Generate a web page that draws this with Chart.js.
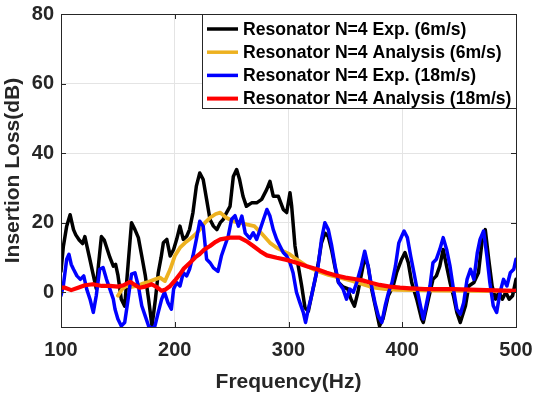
<!DOCTYPE html>
<html><head><meta charset="utf-8">
<script src="https://cdn.jsdelivr.net/npm/chart.js@4/dist/chart.umd.min.js"></script>
<style>html,body{margin:0;padding:0;background:#fff;overflow:hidden}#wrap{width:535px;height:395px}</style>
</head><body><div id="wrap"><canvas id="c" width="535" height="395"></canvas></div>
<script>
const seriesNames = [
  'Resonator N=4 Exp. (6m/s)',
  'Resonator N=4 Analysis (6m/s)',
  'Resonator N=4 Exp. (18m/s)',
  'Resonator N=4 Analysis (18m/s)'
];
const seriesColors = ['#000000', '#EDB120', '#0000FF', '#FF0000'];
const xTicks = [100, 200, 300, 400, 500];
const yTicks = [0, 20, 40, 60, 80];

const freqExp6 = [100,102,105,108,111,113,116,119,121,123,125,128,131,133,135.5,138,140,143,146,148,150,153,156,159,162,165,168,171,174,177,180,183,185.5,188,190,193,196,199,201.7,204.6,207.5,210.5,213,216,219,222,225,228,231,234,237,240,242.6,245.6,248.6,251.5,254.4,257,260,263,267.6,272,276.4,280.8,283.7,286.6,291,295.4,298.4,301.3,302.8,305.7,308.6,311.6,314.5,317.4,320.3,323.3,326,329,332,335,338,341,344,348,352,355,358,361,364,367,370,373,377.5,380,383,387.7,392,395,399.5,402.4,405.3,408.3,412.7,417,418.5,423,427,430,433,436,439,442,445,448,451,455.6,458.5,463,467,470,473,476,479,482,485,488,491,494,497,500];
const ilExp6 = [6,13,19,22.3,18,16.5,15,14,16,13,10,5.5,1,8,16,15,13,10,7.5,8,5,-2,-4,8,20,18,15.7,10.4,5,-2,-9.7,-2,5.6,10,14.2,15.2,10.4,12.3,15.2,19,15.2,16.1,18,22.9,30.5,34.3,32.4,26.7,20.9,19,18,20,20.9,22.9,24.7,33.3,35.3,32.4,27.6,24.7,25.7,25.7,26.7,29.5,31.9,27.6,27.6,23.8,22.9,28.6,24.7,13.3,7.5,1.8,-4.5,-5.5,-1,3.5,8,14.2,17,16,12,7,2.8,1.5,1,-2,-4,0,5,10,7.5,1,-5.8,-9.7,-7.7,-1,1.8,5.6,9.5,11.4,8.5,2.8,-2,-7.7,-8.7,-2,3.7,4.7,7.5,12.3,7.5,2.8,-1,-5.8,-8.7,-3.9,1.8,2.8,5.6,14.2,18,9.5,1.8,-2,0,-2,0,-2,-1,3.7];

const freqAna6 = [150,154,157.7,162,167,172,177,182.6,187,191.4,196,200,204.6,209,213,218,222,226.6,231,236,240,245,251.5,257,263,270,276,283.7,289.6,295.4,301,307,316,325,335,345,355,365,375,385,395,410,430,460,500];
const ilAna6 = [-1,1,1.8,1.5,1.8,2.5,3,3.7,4.2,3.2,6.6,10.4,12.8,14.2,15.2,16.6,18,20,21.4,22.5,22.9,21.5,20.4,20,19.5,19,17,14.2,12.8,11.8,10.9,9.5,7.5,6.1,5,4.2,3.3,2.3,1.3,0.9,0.7,0.6,0.5,0.4,0.3];

const freqExp18 = [100,102,105,107,109,111,114,117,120,122.6,125.5,128.4,131,134,137,140,143,146,147.5,150,153,156,159,162,165,168,171,174,177,180,182.6,185.5,188.5,191,194,197,199,201.7,204.6,207.5,210.5,213,216,219,222,225,228,231,234,238,241,244,247,250,253,256,259,262,266,269,272,275,278,281,283.7,286.6,289.6,292.5,295.4,298.4,301.3,304,307,310,313,315,317.4,320.3,323.3,326,329,332,335,338,341,344,348,351,354,357,360,364,367,370,373,376,379,382,385,388,391,394,397,399.5,401.6,404.5,407.4,410.3,413,416,418.5,421.5,424.4,427,430,433,436,439,442,445,448,451,454,457,460,463,466,468.4,471.5,474.4,477,480,483,486,489,492,495,498,500];
const ilExp18 = [-1,1.8,9.5,10.9,8,6.6,4.7,3.7,4.7,0.9,-2,-5.8,-1,6.6,7.1,3.7,0.9,-2,-4.9,-7.7,-9.7,-8.7,-2,5.2,5.6,1.8,-3.9,-6.8,-9.7,-10.5,-9.7,-5.8,-2,0,-3,-4.9,0.9,2.8,1.8,5.6,4.7,6.6,10.4,15.2,20.4,19,9.5,8.5,7,6,10.4,13.3,16.1,21,22,19,21.9,17,15.5,17.1,15.2,18,20.9,23.8,21.9,18,15.2,13.3,11.4,10.4,8.5,5.6,0,-3,-5.8,-8.7,-4.9,-1,3.7,7.5,15.2,20,18,13.3,7.5,2.8,0.9,-2,0.9,0,2.8,7.5,11.8,7.5,1.8,-3,-6.8,-8.7,-3.9,0,2.8,7.5,14.2,16.1,17.6,15.7,10.4,5.6,0.9,-3.9,-7.7,-3,1.8,8.5,9.5,12.3,15.7,12.3,7.5,0.9,-4.9,-6.3,-3,3.7,6.6,3.7,11.4,15.2,17.6,10.4,2.8,-3.9,-5.8,0,3.7,1.8,5.6,6.6,9.5];

const freqAna18 = [100,103.5,109,115,121,128,136,143,150,155,160.7,164,169,174,179.7,184,188.5,192,196,200,204.6,208,213.4,218,222,226,231,236,240,248.6,257,263,269,275,281,289.6,298.4,307,316,325,333.6,341,350,358,365,371.6,380,389,398,407,420,445,474,500];
const ilAna18 = [1.3,1.3,0.6,1.3,2,2.3,1.8,1.8,1.6,2,3,2.3,1.3,1.6,2.3,1.5,0.4,0.8,1.8,3.3,5.2,6.8,8.5,10,11,12.3,13.3,14.5,15.2,15.7,15.7,14.7,13.3,11.8,10.6,9.9,9.3,8.5,7.5,6.6,5.6,4.9,4.2,3.8,3.4,2.8,2.1,1.6,1.3,1.1,0.9,0.9,0.6,0.4];

const pairs = (fs, vs) => fs.map((f, i) => ({x: f, y: vs[i]}));
const INK = '#262626';
const FONT = "'Liberation Sans', Arial, Helvetica, sans-serif";

const framePlugin = {
  id: 'frame',
  afterDraw(chart) {
    const ctx = chart.ctx, a = chart.chartArea;
    const xs = chart.scales.x, ys = chart.scales.y;
    ctx.save();
    ctx.strokeStyle = INK; ctx.lineWidth = 1;
    ctx.strokeRect(Math.round(a.left) + 0.5, Math.round(a.top) + 0.5, Math.round(a.right - a.left), Math.round(a.bottom - a.top));
    ctx.beginPath();
    const tl = 5;
    xTicks.forEach(v => {
      const px = Math.round(xs.getPixelForValue(v)) + 0.5;
      ctx.moveTo(px, a.bottom); ctx.lineTo(px, a.bottom - tl);
      ctx.moveTo(px, a.top); ctx.lineTo(px, a.top + tl);
    });
    yTicks.forEach(v => {
      const py = Math.round(ys.getPixelForValue(v)) + 0.5;
      ctx.moveTo(a.left, py); ctx.lineTo(a.left + tl, py);
      ctx.moveTo(a.right, py); ctx.lineTo(a.right - tl, py);
    });
    ctx.stroke();
    // legend
    const bx = 202, by = Math.round(a.top), bw = Math.round(a.right) - 202, bh = 94;
    ctx.fillStyle = '#fff';
    ctx.fillRect(bx, by, bw, bh);
    ctx.strokeStyle = INK;
    ctx.strokeRect(bx + 0.5, by + 0.5, bw, bh);
    ctx.font = "bold 17.6px " + FONT;
    ctx.textBaseline = 'middle';
    ctx.textAlign = 'left';
    chart.data.datasets.forEach((ds, i) => {
      const cy = by + 15 + i * 23.2;
      ctx.strokeStyle = ds.borderColor;
      ctx.lineWidth = i === 3 ? 4 : 3.5;
      ctx.beginPath(); ctx.moveTo(207, cy); ctx.lineTo(238, cy); ctx.stroke();
      ctx.fillStyle = '#000';
      ctx.fillText(ds.label, 243, cy + 1);
    });
    ctx.restore();
  }
};

const mk = (i, fs, vs, order, w) => ({
  label: seriesNames[i], data: pairs(fs, vs), borderColor: seriesColors[i],
  backgroundColor: seriesColors[i], borderWidth: w, pointRadius: 0, tension: 0,
  fill: false, order: order, borderJoinStyle: 'round', borderCapStyle: 'round'
});

new Chart(document.getElementById('c'), {
  type: 'line',
  data: {
    datasets: [
      mk(0, freqExp6, ilExp6, 3, 3.5),
      mk(1, freqAna6, ilAna6, 2, 3.8),
      mk(2, freqExp18, ilExp18, 1, 3.5),
      mk(3, freqAna18, ilAna18, 0, 4.2)
    ]
  },
  options: {
    responsive: false, animation: false, devicePixelRatio: 1,
    layout: {padding: {top: 14, right: 19, left: 0, bottom: 0}},
    plugins: {legend: {display: false}, tooltip: {enabled: false}},
    scales: {
      x: {
        type: 'linear', min: 100, max: 500,
        afterBuildTicks: s => { s.ticks = xTicks.map(v => ({value: v})); },
        afterFit: s => { s.height = 68; s.paddingLeft = 0; s.paddingRight = 0; },
        grid: {color: '#e4e4e4', drawTicks: false},
        border: {display: false},
        ticks: {font: {family: FONT, size: 20, weight: 'bold'}, color: INK, padding: 11, maxRotation: 0},
        title: {display: true, text: 'Frequency(Hz)', font: {family: FONT, size: 21, weight: 'bold'}, color: INK, padding: {top: 0, bottom: 0}}
      },
      y: {
        min: -10, max: 80,
        afterBuildTicks: s => { s.ticks = yTicks.map(v => ({value: v})); },
        afterFit: s => { s.width = 61; s.paddingTop = 0; s.paddingBottom = 0; },
        grid: {color: '#e4e4e4', drawTicks: false},
        border: {display: false},
        ticks: {font: {family: FONT, size: 20, weight: 'bold'}, color: INK, padding: 7},
        title: {display: true, text: 'Insertion Loss(dB)', font: {family: FONT, size: 21, weight: 'bold'}, color: INK, padding: {top: 1, bottom: 0}}
      }
    }
  },
  plugins: [framePlugin]
});
</script></body></html>
